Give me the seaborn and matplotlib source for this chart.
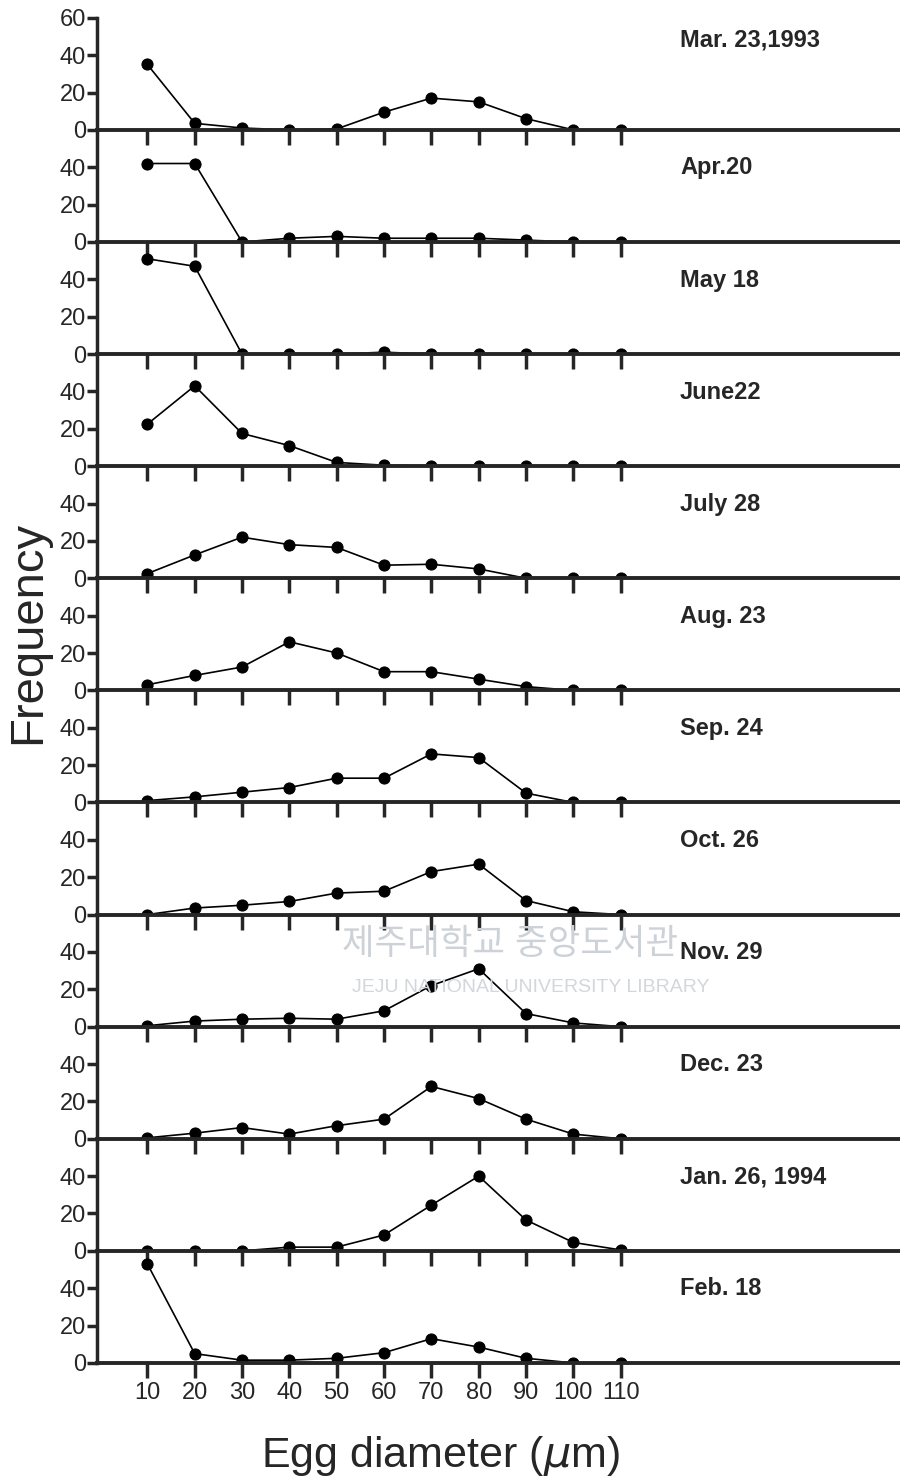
import numpy as np
import pandas as pd
import matplotlib
matplotlib.use("Agg")
import matplotlib.pyplot as plt
import seaborn as sns

# ---- data ----
diameters = [10, 20, 30, 40, 50, 60, 70, 80, 90, 100, 110]
dates = ["Mar. 23,1993", "Apr.20", "May 18", "June22", "July 28", "Aug. 23",
         "Sep. 24", "Oct. 26", "Nov. 29", "Dec. 23", "Jan. 26, 1994", "Feb. 18"]
mar = [35, 3.5, 1, 0, 0.5, 9.5, 17, 15, 6, 0, 0]
apr = [42, 42, 0, 2, 3, 2, 2, 2, 1, 0, 0]
may = [51, 47, 0, 0, 0, 1, 0, 0, 0, 0, 0]
jun = [22.5, 43, 17.5, 11, 2, 0.5, 0, 0, 0, 0, 0]
jul = [2.5, 12.5, 22, 18, 16.5, 7, 7.5, 5, 0, 0, 0]
aug = [3, 8, 12.5, 26, 20, 10, 10, 6, 2, 0, 0]
sep = [1, 3, 5.5, 8, 13, 13, 26, 24, 5, 0, 0]
oct_ = [0, 3.5, 5, 7, 11.5, 12.5, 23, 27, 7.5, 1.5, 0]
nov = [0.5, 3, 4, 4.5, 4, 8.5, 22, 31, 7, 2, 0]
dec = [0.5, 3, 6, 2.5, 7, 10.5, 28, 21.5, 10.5, 2.5, 0]
jan = [0, 0, 0, 2, 2, 8.5, 24.5, 40, 16.5, 4.5, 0.5]
feb = [53, 5, 1.5, 1.5, 2.5, 5.5, 13, 8.5, 2.5, 0, 0]
series = [mar, apr, may, jun, jul, aug, sep, oct_, nov, dec, jan, feb]
ytick_top = [0, 20, 40, 60]
ytick_other = [0, 20, 40]

sns.set_style("ticks")
plt.rcParams['font.family'] = ['Liberation Sans', 'Noto Sans CJK KR', 'DejaVu Sans']
plt.rcParams['mathtext.fontset'] = 'dejavusans'

fig, axes = plt.subplots(12, 1, figsize=(9, 14.81), dpi=100, sharex=True)
fig.subplots_adjust(left=0.108, right=1.0, top=0.988, bottom=0.0797, hspace=0)

# faint library watermark (behind the panels)
fig.text(0.567, 0.362, "제주대학교 중앙도서관", fontsize=25.5, color="#cdd1d8",
         ha="center", va="center", zorder=0)
fig.text(0.59, 0.333, "JEJU NATIONAL UNIVERSITY LIBRARY", fontsize=14,
         color="#d3d6dc", ha="center", va="center", zorder=0)

for i, (ax, vals, lab) in enumerate(zip(axes, series, dates)):
    df = pd.DataFrame({"d": diameters, "f": vals})
    sns.lineplot(data=df, x="d", y="f", ax=ax, color="black", linewidth=1.2,
                 marker="o", markersize=8, markeredgecolor="black")
    ax.patch.set_visible(False)
    ax.set_ylim(0, 60)
    ax.set_xlim(-0.6, 169)
    ax.set_xticks(diameters)
    ax.set_yticks(ytick_top if i == 0 else ytick_other)
    ax.set_xlabel("")
    ax.set_ylabel("")
    for s in ["top", "right"]:
        ax.spines[s].set_visible(False)
    ax.spines["left"].set_linewidth(2.5)
    ax.spines["bottom"].set_linewidth(2.8)
    ax.tick_params(axis="y", direction="out", length=7, width=2.5, pad=1,
                   labelsize=17)
    ax.tick_params(axis="x", direction="out", length=11, width=2.5, pad=3,
                   labelsize=17)
    ypos = 0.80 if i == 0 else 0.66
    ax.text(0.726, ypos, lab, transform=ax.transAxes, fontsize=17,
            fontweight="bold", ha="left", va="center")

axes[-1].tick_params(axis="x", labelbottom=True)

fig.text(0.031, 0.573, "Frequency", rotation=90, fontsize=34,
         ha="center", va="center")
fig.text(0.489, 0.017, r"Egg diameter ($\mu$m)", fontsize=31,
         ha="center", va="center")

fig.savefig("out.png", dpi=100)
